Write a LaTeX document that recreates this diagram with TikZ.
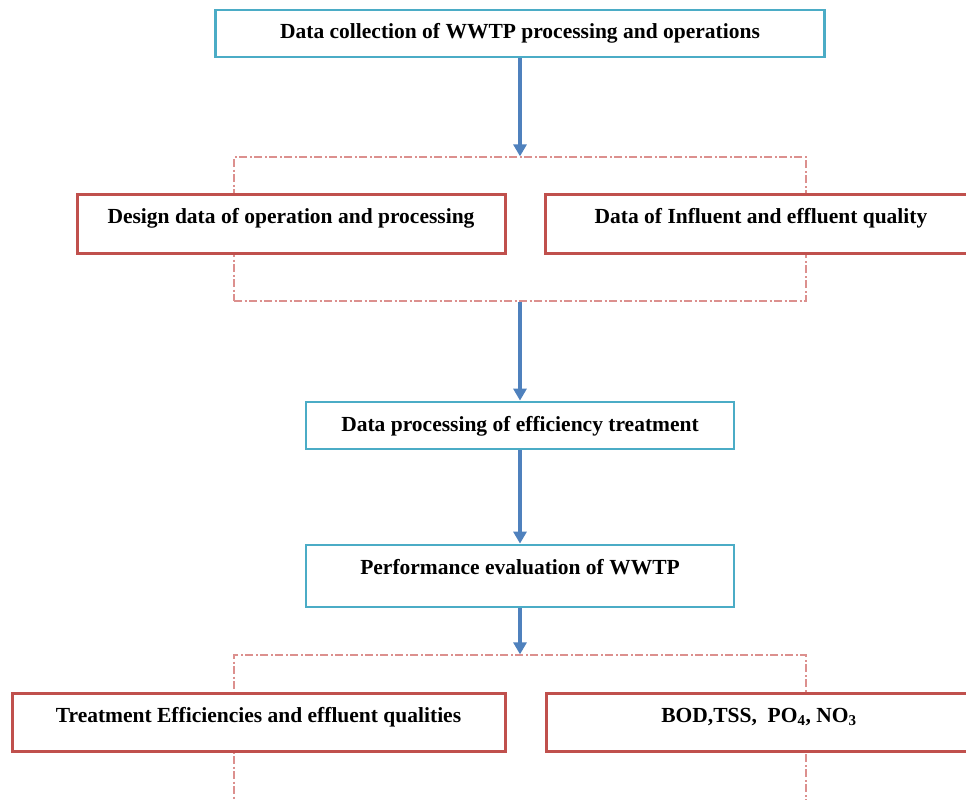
\documentclass[tikz,border=0pt]{standalone}
\usepackage{fontspec}
\setmainfont{Liberation Serif}
\usepackage{tikz}
\usetikzlibrary{arrows.meta}

\definecolor{aquab}{HTML}{4BACC6}
\definecolor{redb}{HTML}{C0504D}
\definecolor{bluearr}{HTML}{4F81BD}
\definecolor{dashred}{HTML}{DC908E}

\begin{document}
\begin{tikzpicture}[x=1pt, y=-1pt,
    font=\bfseries\fontsize{21.5}{24}\selectfont,
    stagebox/.style={draw=aquab, line width=2.8pt, fill=white, minimum width=428pt,
      minimum height=47pt, text height=15pt, text depth=4pt},
    databox/.style={draw=redb, line width=3pt, fill=white, minimum width=428pt,
      minimum height=59pt, text height=15pt, text depth=15pt},
    groupbox/.style={draw=dashred, line width=1.3pt, minimum width=572pt,
      dash pattern=on 8pt off 2.5pt on 2pt off 2.5pt},
    flow/.style={draw=bluearr, line width=4pt, -{Triangle[width=13pt,length=12pt]}}]
  \useasboundingbox[fill=white] (0,0) rectangle (966,800);

  % dashed groups first, boxes are painted over them
  \node[groupbox, minimum height=144pt] (grp1) at (520,229) {};
  \node[groupbox, minimum height=210pt] (grp2) at (520,760) {};

  \node[stagebox, minimum width=609pt] (collect) at (520,33.5)
    {Data collection of WWTP processing and operations};
  \node[databox] (design) at (291,223.5) {Design data of operation and processing};
  \node[databox, minimum width=432pt] (quality) at (761,223.5)
    {Data of Influent and effluent quality};
  \node[stagebox] (process) at (520,425.5) {Data processing of efficiency treatment};
  \node[stagebox, minimum height=62pt, text depth=19pt] (evaluate) at (520,576)
    {Performance evaluation of WWTP};
  \node[databox, minimum width=493pt, minimum height=58pt] (effic) at (258.5,722)
    {Treatment Efficiencies and effluent qualities};
  \node[databox, minimum width=426pt, minimum height=58pt] (params) at (759,722)
    {BOD,TSS,~ PO\textsubscript{4}, NO\textsubscript{3}};

  \draw[flow] (collect.south) -- (grp1.north);
  \draw[flow] (grp1.south) -- (process.north);
  \draw[flow] (process.south) -- (evaluate.north);
  \draw[flow] (evaluate.south) -- (grp2.north);
\end{tikzpicture}
\end{document}
